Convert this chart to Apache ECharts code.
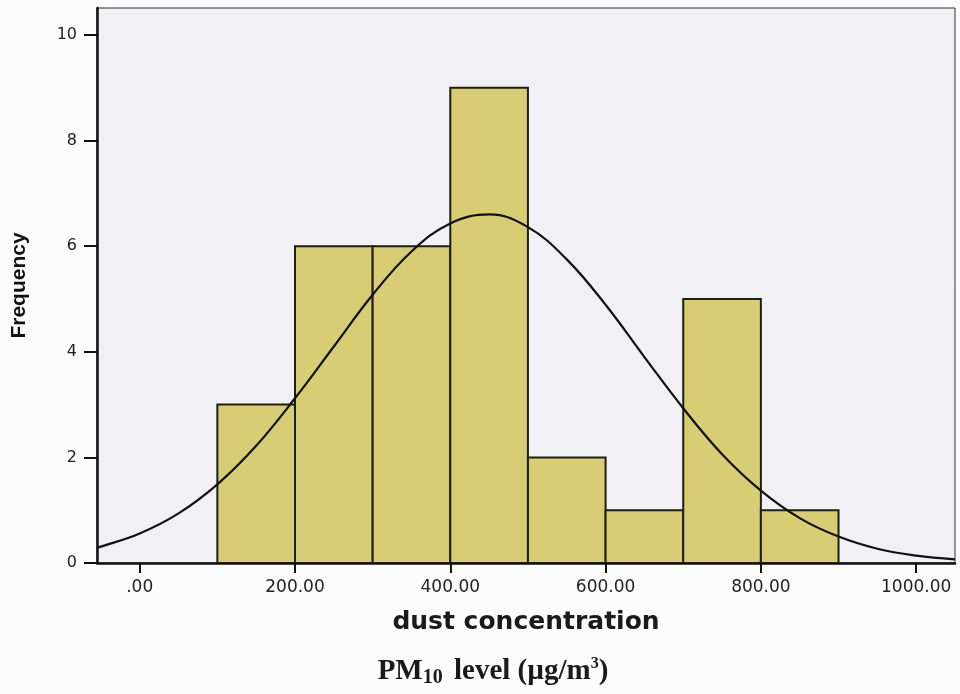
<!DOCTYPE html>
<html>
<head>
<meta charset="utf-8">
<script src="https://cdn.jsdelivr.net/npm/echarts@6/dist/echarts.min.js"></script>
<style>
html,body{margin:0;padding:0;background:#fcfcfd;}
#chart{width:960px;height:694px;}
</style>
</head>
<body>
<div id="chart"></div>
<script>
// Histogram bins (dust concentration)
var binStart = [100, 200, 300, 400, 500, 600, 700, 800];
var binEnd   = [200, 300, 400, 500, 600, 700, 800, 900];
var frequency = [3, 6, 6, 9, 2, 1, 5, 1];

// Normal curve
var curveX = [-55, -50, 0, 50, 100, 150, 200, 250, 300, 350, 400, 450, 500, 550, 600, 650, 700, 750, 800, 850, 900, 950, 1000, 1050];
var curveY = [0.29, 0.31, 0.56, 0.94, 1.49, 2.22, 3.12, 4.10, 5.08, 5.90, 6.43, 6.60, 6.36, 5.75, 4.89, 3.90, 2.93, 2.06, 1.37, 0.85, 0.50, 0.27, 0.14, 0.07];

// Tick labels
var xTicks = [0, 200, 400, 600, 800, 1000];
var xTickLabels = ['.00', '200.00', '400.00', '600.00', '800.00', '1000.00'];
var yTicks = [0, 2, 4, 6, 8, 10];

var histData = binStart.map(function (s, i) { return [s, binEnd[i], frequency[i]]; });
var curveData = curveX.map(function (x, i) { return [x, curveY[i]]; });

var chart = echarts.init(document.getElementById('chart'));
chart.setOption({
  animation: false,
  backgroundColor: '#fcfcfd',
  title: {
    text: 'PM{sub|10} level (µg/m{sup|3})',
    left: 488,
    textAlign: 'center',
    top: 650,
    textStyle: {
      fontFamily: 'Liberation Serif',
      fontWeight: 'bold',
      fontSize: 29,
      color: '#1a1a1a',
      rich: {
        sub: { fontFamily: 'Liberation Serif', fontWeight: 'bold', fontSize: 20, color: '#1a1a1a', padding: [13, 4, 0, 0] },
        sup: { fontFamily: 'Liberation Serif', fontWeight: 'bold', fontSize: 16, color: '#1a1a1a', padding: [0, 0, 15, 0] }
      }
    }
  },
  grid: {
    left: 97, right: 5, top: 8, bottom: 131,
    outerBoundsMode: 'none',
    containLabel: false,
    show: true,
    backgroundColor: '#f1f1f5',
    borderColor: '#333',
    borderWidth: 1
  },
  xAxis: {
    type: 'value',
    min: -55,
    max: 1050,
    name: 'dust concentration',
    nameLocation: 'middle',
    nameGap: 47,
    nameTextStyle: { fontFamily: 'DejaVu Sans', fontWeight: 'bold', fontSize: 25, color: '#1a1a1a' },
    splitLine: { show: false },
    axisLine: { show: true, onZero: false, lineStyle: { color: '#111', width: 2.5 } },
    axisTick: { show: true, customValues: xTicks, length: 10, lineStyle: { color: '#111', width: 2 } },
    axisLabel: {
      customValues: xTicks,
      margin: 16,
      fontFamily: 'DejaVu Sans',
      fontSize: 17,
      color: '#222',
      formatter: function (v) { var i = xTicks.indexOf(v); return i >= 0 ? xTickLabels[i] : ''; }
    }
  },
  yAxis: {
    type: 'value',
    min: 0,
    max: 10.51,
    name: 'Frequency',
    nameLocation: 'middle',
    nameGap: 67,
    nameRotate: 90,
    nameTextStyle: { fontFamily: 'Liberation Sans', fontWeight: 'bold', fontSize: 21, color: '#111' },
    splitLine: { show: false },
    axisLine: { show: true, onZero: false, lineStyle: { color: '#111', width: 2.5 } },
    axisTick: { show: true, customValues: yTicks, length: 13, lineStyle: { color: '#111', width: 2 } },
    axisLabel: {
      customValues: yTicks,
      margin: 20,
      fontFamily: 'DejaVu Sans',
      fontSize: 16,
      color: '#222'
    }
  },
  series: [
    {
      type: 'custom',
      data: histData,
      encode: { x: [0, 1], y: 2 },
      clip: true,
      renderItem: function (params, api) {
        var p0 = api.coord([api.value(0), 0]);
        var p1 = api.coord([api.value(1), api.value(2)]);
        return {
          type: 'rect',
          shape: { x: p0[0], y: p1[1], width: p1[0] - p0[0], height: p0[1] - p1[1] },
          style: { fill: '#d8cd74', stroke: '#1e1e12', lineWidth: 2 }
        };
      },
      z: 2
    },
    {
      type: 'line',
      data: curveData,
      smooth: 0.4,
      showSymbol: false,
      symbol: 'none',
      clip: true,
      lineStyle: { color: '#111', width: 2.2 },
      z: 3
    }
  ]
});
</script>
</body>
</html>
